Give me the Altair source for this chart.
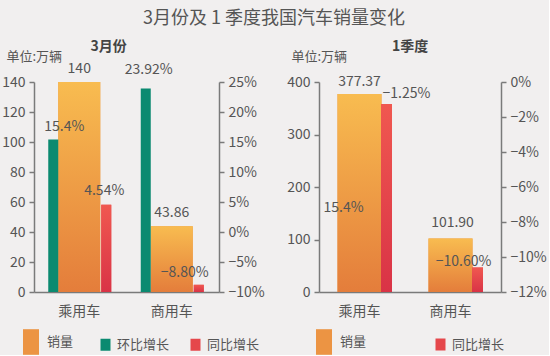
import altair as alt
import pandas as pd

# ---------------- data ----------------
categories = ["乘用车", "商用车"]
mar_sales = [140, 43.86]          # 3月份 销量 (万辆)
mar_sales_dec = [0, 2]
mar_mom = [15.4, 23.92]           # 3月份 环比增长 (%)
mar_mom_dec = [1, 2]
mar_yoy = [4.54, -8.80]           # 3月份 同比增长 (%)
mar_yoy_dec = [2, 2]
q1_sales = [377.37, 101.90]       # 1季度 销量 (万辆)
q1_sales_dec = [2, 2]
q1_yoy = [-1.25, -10.60]          # 1季度 同比增长 (%)
q1_yoy_dec = [2, 2]
q1_extra_label = "15.4%"          # stray label printed in the 1季度 panel
q1_extra_anchor = 160

mar_sales_ticks = [0, 20, 40, 60, 80, 100, 120, 140]
mar_pct_ticks = [-10, -5, 0, 5, 10, 15, 20, 25]
q1_sales_ticks = [0, 100, 200, 300, 400]
q1_pct_ticks = [-12, -10, -8, -6, -4, -2, 0]

FONT = "Noto Sans CJK SC"
TXT = "#555555"
AX = "#7a7a7a"
ORANGE = "#ec9443"
GREEN = "#0b8a70"
RED = "#e5474b"


def num(v, d):
    return f"{v:.{d}f}".replace("-", "\u2212")


def pct(v, d):
    return num(v, d) + "%"


df_mar = pd.DataFrame({
    "category": categories,
    "sales": mar_sales,
    "mom": [v / 100 for v in mar_mom],
    "yoy": [v / 100 for v in mar_yoy],
    "sales_lbl": [num(v, d) for v, d in zip(mar_sales, mar_sales_dec)],
    "mom_lbl": [pct(v, d) for v, d in zip(mar_mom, mar_mom_dec)],
    "yoy_lbl": [pct(v, d) for v, d in zip(mar_yoy, mar_yoy_dec)],
})
df_q1 = pd.DataFrame({
    "category": categories,
    "sales": q1_sales,
    "yoy": [v / 100 for v in q1_yoy],
    "sales_lbl": [num(v, d) for v, d in zip(q1_sales, q1_sales_dec)],
    "yoy_lbl": [pct(v, d) for v, d in zip(q1_yoy, q1_yoy_dec)],
})

orange_grad = alt.Gradient(
    gradient="linear", x1=0, x2=0, y1=0, y2=1,
    stops=[alt.GradientStop(color="#f8bc50", offset=0),
           alt.GradientStop(color="#e47d3b", offset=1)])
red_grad = alt.Gradient(
    gradient="linear", x1=0, x2=0, y1=0, y2=1,
    stops=[alt.GradientStop(color="#f05850", offset=0),
           alt.GradientStop(color="#d93346", offset=1)])

TALL = "M-1,-1.6H1V1.6H-1Z"
SQ = "M-1,-1.2H1V1.2H-1Z"


def legend_spec(x, y, pad, shape, size, offset):
    return alt.Legend(
        orient="none", legendX=x, legendY=y, direction="horizontal",
        title=None, labelFont=FONT, labelFontSize=13, labelColor=TXT,
        symbolType=shape, symbolSize=size, symbolStrokeWidth=0,
        symbolOpacity=1, columnPadding=pad, labelOffset=offset)


def x_enc(label_offset=0):
    return alt.X("category:N", sort=categories,
                 scale=alt.Scale(paddingInner=0, paddingOuter=0),
                 axis=alt.Axis(title=None, labelAngle=0, ticks=False,
                               labelFont=FONT, labelFontSize=14,
                               labelColor=TXT, labelPadding=12,
                               labelOffset=label_offset,
                               domainColor=AX, domainWidth=1.5))


def left_y(field, domain, ticks):
    return alt.Y(f"{field}:Q", scale=alt.Scale(domain=domain),
                 axis=alt.Axis(
                     values=ticks, grid=False, title="单位:万辆",
                     titleAngle=0, titleAlign="left", titleBaseline="middle",
                     titleX=-28, titleY=-26, titleFont=FONT, titleFontSize=13,
                     titleFontWeight="normal", titleColor=TXT,
                     labelFont=FONT, labelFontSize=14, labelColor=TXT,
                     labelOverlap=False,
                     domainColor=AX, domainWidth=1.5, tickColor=AX,
                     tickWidth=1.5, tickSize=5, labelPadding=4))


def right_y(field, domain, ticks):
    return alt.Y(f"{field}:Q", scale=alt.Scale(domain=domain),
                 axis=alt.Axis(
                     values=[t / 100 for t in ticks], format=".0%",
                     orient="right", grid=False, title=None,
                     labelFont=FONT, labelFontSize=14, labelColor=TXT,
                     labelOverlap=False,
                     domainColor=AX, domainWidth=1.5, tickColor=AX,
                     tickWidth=1.5, tickSize=5, labelPadding=4))


def label(base, field, ycol, cat, dx, dy):
    return base.transform_filter(alt.datum.category == cat).mark_text(
        font=FONT, fontSize=14, color=TXT, dx=dx, dy=dy,
        baseline="middle").encode(y=ycol, text=f"{field}:N")


def series(base, name):
    return base.transform_calculate(series=f"'{name}'")


# ---------------- 3月份 panel ----------------
mar_sales_scale = alt.Scale(domain=["销量"], range=[ORANGE])
mar_pct_scale = alt.Scale(domain=["环比增长", "同比增长"], range=[GREEN, RED])
mar_leg_s = legend_spec(-11, 252, 10, TALL, 256, 8)
mar_leg_p = legend_spec(65, 256, 19, SQ, 100, 5)
bm = alt.Chart(df_mar).encode(x=x_enc(-1))
MS_DOM = [0, 140]
MP_DOM = [-0.10, 0.25]
ys = left_y("sales", MS_DOM, mar_sales_ticks)
y_mom = right_y("mom", MP_DOM, mar_pct_ticks)
y_yoy = right_y("yoy", MP_DOM, mar_pct_ticks)

mar_sales_layer = alt.layer(
    series(bm, "销量").mark_bar(width=42, xOffset=-1).encode(
        y=ys, color=alt.Color("series:N", scale=mar_sales_scale,
                              legend=mar_leg_s)),
    bm.mark_bar(width=42, xOffset=-1, fill=orange_grad).encode(y=ys),
    label(bm, "sales_lbl", ys, "乘用车", -1, -13),
    label(bm, "sales_lbl", ys, "商用车", -1, -13),
)
mar_pct_layer = alt.layer(
    series(bm, "环比增长").mark_bar(width=10, xOffset=-27).encode(
        y=y_mom, y2=alt.datum(MP_DOM[0]),
        fill=alt.Fill("series:N", scale=mar_pct_scale, legend=mar_leg_p)),
    series(bm, "同比增长").mark_bar(width=10, xOffset=26).encode(
        y=y_yoy, y2=alt.datum(MP_DOM[0]),
        fill=alt.Fill("series:N", scale=mar_pct_scale, legend=mar_leg_p)),
    bm.mark_bar(width=10, xOffset=26, fill=red_grad).encode(
        y=y_yoy, y2=alt.datum(MP_DOM[0])),
    label(bm, "mom_lbl", y_mom, "乘用车", -16, -13),
    label(bm, "mom_lbl", y_mom, "商用车", -24, -18),
    label(bm, "yoy_lbl", y_yoy, "乘用车", 24, -14),
    label(bm, "yoy_lbl", y_yoy, "商用车", 12, -12),
)
mar_chart = alt.layer(mar_sales_layer, mar_pct_layer).resolve_scale(
    y="independent").properties(
    width=185, height=210,
    title=alt.TitleParams("3月份", font=FONT, fontSize=14, fontWeight="bold",
                          color="#444444", dx=-18, offset=-4))

# ---------------- 1季度 panel ----------------
q1_sales_scale = alt.Scale(domain=["销量"], range=[ORANGE])
q1_pct_scale = alt.Scale(domain=["同比增长"], range=[RED])
q1_leg_s = legend_spec(-3, 252, 10, TALL, 256, 8)
q1_leg_p = legend_spec(115, 256, 16, SQ, 100, 5)
bq = alt.Chart(df_q1).encode(x=x_enc(-5))
QS_DOM = [0, 400]
QP_DOM = [-0.12, 0]
ysq = left_y("sales", QS_DOM, q1_sales_ticks)
ypq = right_y("yoy", QP_DOM, q1_pct_ticks)

q1_sales_layer = alt.layer(
    series(bq, "销量").mark_bar(width=44, xOffset=-5).encode(
        y=ysq, color=alt.Color("series:N", scale=q1_sales_scale,
                               legend=q1_leg_s)),
    bq.mark_bar(width=44, xOffset=-5, fill=orange_grad).encode(y=ysq),
    label(bq, "sales_lbl", ysq, "乘用车", -5, -12),
    label(bq, "sales_lbl", ysq, "商用车", -3, -16),
    bq.transform_filter(alt.datum.category == "乘用车").mark_text(
        font=FONT, fontSize=14, color=TXT, dx=-21, baseline="middle").encode(
        y=alt.datum(q1_extra_anchor), text=alt.value(q1_extra_label)),
)
q1_pct_layer = alt.layer(
    series(bq, "同比增长").mark_bar(width=11, xOffset=22).encode(
        y=ypq, y2=alt.datum(QP_DOM[0]),
        fill=alt.Fill("series:N", scale=q1_pct_scale, legend=q1_leg_p)),
    bq.mark_bar(width=11, xOffset=22, fill=red_grad).encode(
        y=ypq, y2=alt.datum(QP_DOM[0])),
    label(bq, "yoy_lbl", ypq, "乘用车", 42, -10),
    label(bq, "yoy_lbl", ypq, "商用车", 8, -6),
)
q1_chart = alt.layer(q1_sales_layer, q1_pct_layer).resolve_scale(
    y="independent").properties(
    width=182, height=210,
    title=alt.TitleParams("1季度", font=FONT, fontSize=14, fontWeight="bold",
                          color="#444444", offset=-4))

chart = alt.hconcat(mar_chart, q1_chart, spacing=21).resolve_scale(
    color="independent", fill="independent").properties(
    title=alt.TitleParams("3月份及 1 季度我国汽车销量变化", font=FONT,
                          fontSize=18, fontWeight="normal", color=TXT,
                          anchor="middle", offset=12),
    background="#f1efef",
    padding={"left": 1, "top": 10, "right": 2, "bottom": 0},
).configure_view(stroke=None)

chart.save("out.html", embed_options={"renderer": "svg", "actions": False})
